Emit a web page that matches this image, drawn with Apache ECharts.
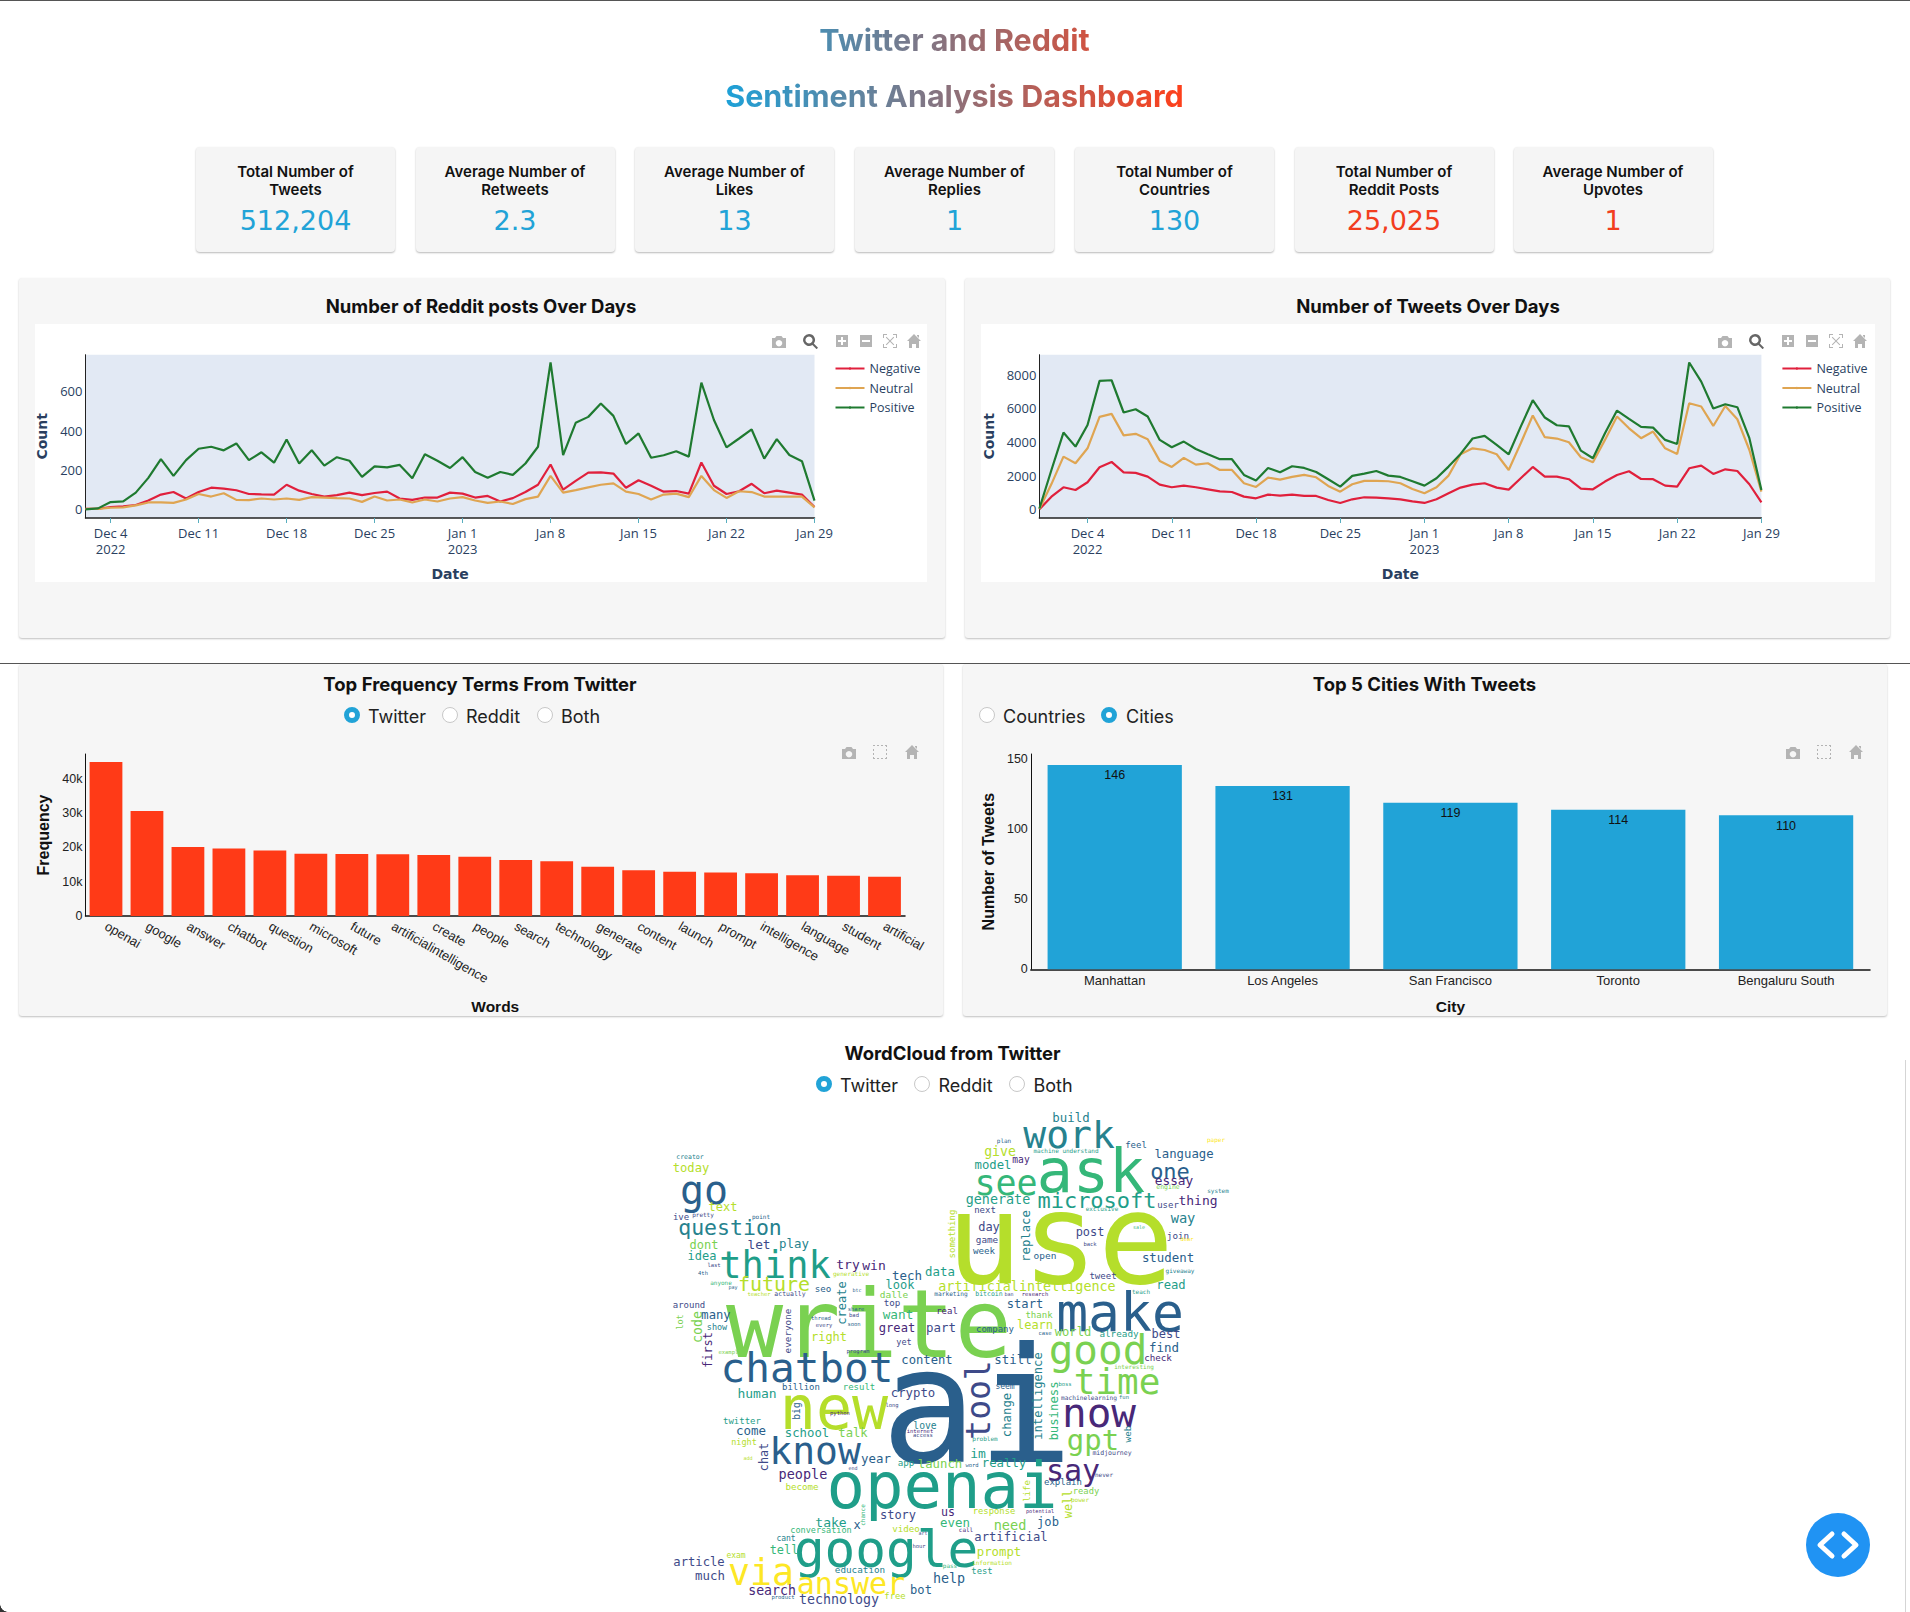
<!DOCTYPE html>
<html>
<head>
<meta charset="utf-8">
<title>Twitter and Reddit Sentiment Analysis Dashboard</title>
<script src="https://cdn.jsdelivr.net/npm/echarts@6/dist/echarts.min.js"></script>
<style>
  html, body { margin: 0; padding: 0; background: #fff; }
  #page { position: relative; width: 1910px; height: 1612px; overflow: hidden; font-family: Inter, sans-serif; color: #111; }
  #page > * { position: absolute; box-sizing: border-box; }
  .rule { left: 0; width: 1910px; height: 1px; background: #555; }
  .headline { left: 725px; top: 12px; width: 459px; text-align: center; font-weight: 700; font-size: 30.5px; line-height: 56px; white-space: nowrap;
    background: linear-gradient(90deg, #1da1d8, #ff3f1a); -webkit-background-clip: text; background-clip: text; color: transparent; }
  .kpi { top: 147px; width: 199px; height: 105px; background: #f5f5f5; border-radius: 4px; box-shadow: 0 1px 2px rgba(0,0,0,.28); text-align: center; }
  .kpi .lab { margin-top: 16px; font-size: 15px; font-weight: 600; line-height: 18px; }
  .kpi .val { margin-top: 4px; font-family: "DejaVu Sans", sans-serif; font-size: 27px; line-height: 36px; }
  .card { background: #f6f6f6; border-radius: 3px; box-shadow: 0 1px 2px rgba(0,0,0,.25); }
  .box { background: #fff; }
  .title { font-weight: 700; font-size: 18.5px; line-height: 24px; text-align: center; white-space: nowrap; transform: translateX(-50%); }
  .radio { width: 16px; height: 16px; border-radius: 50%; background: #fff; border: 1px solid #c8c8c8; }
  .radio.on { background: #fff; border: 5px solid #21a3d7; }
  .radiolab { font-size: 18px; line-height: 24px; color: #222; white-space: nowrap; }
  .ico { width: 16px; height: 16px; transform: translate(-50%, -50%); fill: #b4b4b4; }
</style>
</head>
<body>
<div id="page"></div>
<script>
// --- data ---
var kpiLabels = ['Total Number of<br>Tweets', 'Average Number of<br>Retweets', 'Average Number of<br>Likes', 'Average Number of<br>Replies',
  'Total Number of<br>Countries', 'Total Number of<br>Reddit Posts', 'Average Number of<br>Upvotes'];
var kpiValues = ['512,204', '2.3', '13', '1', '130', '25,025', '1'];

var redditDays = ['Dec 2','Dec 3','Dec 4','Dec 5','Dec 6','Dec 7','Dec 8','Dec 9','Dec 10','Dec 11','Dec 12','Dec 13','Dec 14','Dec 15','Dec 16','Dec 17',
  'Dec 18','Dec 19','Dec 20','Dec 21','Dec 22','Dec 23','Dec 24','Dec 25','Dec 26','Dec 27','Dec 28','Dec 29','Dec 30','Dec 31',
  'Jan 1','Jan 2','Jan 3','Jan 4','Jan 5','Jan 6','Jan 7','Jan 8','Jan 9','Jan 10','Jan 11','Jan 12','Jan 13','Jan 14','Jan 15','Jan 16','Jan 17',
  'Jan 18','Jan 19','Jan 20','Jan 21','Jan 22','Jan 23','Jan 24','Jan 25','Jan 26','Jan 27','Jan 28','Jan 29'];
var tweetDays = ['Nov 30','Dec 1'].concat(redditDays);
var weekTicks = ['Dec 4','Dec 11','Dec 18','Dec 25','Jan 1','Jan 8','Jan 15','Jan 22','Jan 29'];

var redditNegative = [3,3,12,15,22,45,75,88,55,88,110,105,97,78,76,75,125,95,78,65,72,85,72,83,90,55,48,60,60,85,80,60,68,40,57,88,125,228,100,145,187,188,182,110,148,120,90,93,80,238,120,78,92,130,82,95,85,75,12];
var redditNeutral = [2,2,8,10,20,35,35,33,50,78,65,82,48,47,55,50,55,48,62,60,57,55,38,65,45,50,35,50,40,55,62,45,33,40,27,52,65,170,85,98,112,125,132,90,78,50,75,80,62,170,98,58,92,88,65,65,65,65,10];
var redditPositive = [0,5,37,40,85,160,255,170,250,308,318,300,335,250,290,237,355,233,300,222,265,247,165,218,213,226,158,280,247,210,265,190,160,190,175,233,318,747,276,440,470,538,475,332,386,262,275,295,268,644,454,315,360,406,258,357,276,245,44];

var tweetNegative = [0,750,1310,1150,1610,2500,2820,2200,2165,1945,1470,1310,1410,1310,1190,1070,1030,755,655,875,815,875,795,795,555,377,595,715,695,655,595,475,377,595,950,1290,1470,1550,1290,1170,1845,2520,1945,1945,1790,1230,1190,1650,2045,2265,1805,1790,1410,1350,2440,2600,2105,2380,2280,1490,415];
var tweetNeutral = [20,1500,3135,2740,3630,5500,5680,4400,4490,4170,2880,2520,3060,2660,2740,2340,2340,1550,1330,1885,1770,1925,2045,1905,1390,1050,1490,1690,1690,1670,1550,1210,950,1310,2005,3275,3630,3530,3275,2340,3930,5580,4290,4210,3990,3100,2800,4130,5520,4820,4230,4625,3630,3295,6310,6115,4960,6150,5360,3530,1050];
var tweetPositive = [50,2340,4565,3730,5020,7640,7680,5760,5955,5520,4130,3690,4030,3590,3275,2980,2980,2045,1710,2460,2200,2560,2460,2220,1790,1350,1985,2125,2280,2005,1925,1670,1410,1845,2540,3295,4210,4370,3830,3275,4920,6490,5460,5000,4940,3490,3040,4525,5875,5380,4900,4860,4130,3890,8735,7600,5995,6250,6075,4230,1150];

var termWords = ['openai','google','answer','chatbot','question','microsoft','future','artificialintelligence','create','people','search','technology','generate','content','launch','prompt','intelligence','language','student','artificial'];
var termFreq = [44850,30580,20100,19700,19100,18150,18050,17960,17770,17280,16310,15920,14370,13300,12900,12700,12430,11840,11750,11460];
var termTicks = [0,10000,20000,30000,40000];

var cityNames = ['Manhattan','Los Angeles','San Francisco','Toronto','Bengaluru South'];
var cityTweets = [146,131,119,114,110];
var cityTicks = [0,50,100,150];

// word cloud: picture-space placement on a hidden 620x512 value axis pair,
// [x, y, font size, shade (index into viridis), vertical]
var viridis = ['#440154','#482878','#3e4a89','#2a5f8c','#26828e','#1f9e89','#35b779','#7ad151','#b5de2b','#fde725'];
var cloudWords = ['use','write','ai','openai','google','make','good','think','chatbot','new','know','now','time','say','gpt','tool','ask','see','work','go',
  'question','microsoft','generate','one','essay','language','thing','build','feel','give','model','may','user','way','next','day','post','game','week','open','join','student','replace','something','tweet','read','artificialintelligence','tech','data','win','try','future','let','play','dont','idea','today','text','look','dalle','create','seo','top','want','great','part','real','start','thank','learn','company','right','yet','world','already','best','find','check','still','content','crypto','human','billion','result','seem','change','intelligence','business','web','first','everyone','code','many','around','show','lot','big','twitter','come','school','talk','love','chat','year','im','app','launch','really','people','become','explain','ready','life','well','us','story','response','potential','take','x','even','need','job','conversation','video','artificial','prompt','cant','tell','article','exam','via','answer','much','education','help','test','search','technology','bot','free','product','hour','call','art','chance','end','word','never','power','pass','information','midjourney','problem','machinelearning','fun','boss','interesting','internet','access','long','python','night','add','program','example','case','soon','share','bad','thread','every','teacher','actually','pay','anyone','btc','generative','last','4th','ive','pretty','point','creator','plan','paper','machine understand','engine','system','exclusive','back','sale','dear','giveaway','teach','research','ban','bitcoin','marketing'];
var cloudPlace = [[420,141,126,8,0],[229,226,95,7,0],[337,308,160,3,0],[302,388,64,5,0],[246,451,51,5,0],[480,214,53,3,0],[458,252,41,7,0],[135,167,37,5,0],[167,270,41,3,0],[194,310,60,8,0],[175,353,38,3,0],[459,315,41,1,0],[477,283,36,7,0],[433,372,30,1,0],[453,342,29,7,0],[338,302,33,2,1],[451,73,60,6,0],[366,85,35,6,0],[429,37,38,4,0],[64,92,40,3,0],
  [90,129,21.5,4,0],[457,102,22,5,0],[358,101,13.4,5,0],[530,73,22,3,0],[534,82,12.8,1,0],[544,56,12.3,3,0],[558,102,13,1,0],[431,19,12.4,4,0],[496,47,9,3,0],[360,53,13.2,8,0],[353,67,12.3,5,0],[381,61,9.6,1,0],[528,107,9,2,0],[543,120,13.7,4,0],[345,112,9,2,0],[349,129,12,2,0],[450,134,11.9,2,0],[347,141,9.3,2,0],[344,152,9.2,3,0],[405,157,9.5,3,0],[538,137,9.3,2,0],[528,159,12.4,3,0],[386,138,12.3,4,1],[312,136,9,8,1],[463,178,9,2,0],[531,187,12.2,5,0],[387,188,13.4,8,0],[267,177,12.5,3,0],[300,173,12.4,5,0],[234,167,13,1,0],[208,166,13,1,0],[134,186,20,8,0],[119,146,12.8,2,0],[154,145,12.4,4,0],[64,147,12,7,0],[62,158,12,5,0],[51,70,12.1,8,0],[83,109,12,8,0],[260,187,12,5,0],[254,196,9.5,7,0],[202,205,12,4,1],[183,190,9.2,3,0],[252,204,9.2,2,0],[258,216,12.7,6,0],[257,230,12.1,1,0],[301,229,12.4,2,0],[307,213,9,1,0],[385,206,12.1,3,0],[399,217,9,7,0],[395,227,12,8,0],[355,231,9,3,0],[189,239,12,8,0],[264,244,8.5,2,0],[433,234,12.1,7,0],[479,235,9.3,5,0],[526,236,12,2,0],[524,249,12.5,3,0],[518,259,9.2,1,0],[373,261,12.4,3,0],[287,262,12.2,3,0],[273,295,12.3,2,0],[117,295,13,5,0],[161,289,9,3,0],[219,289,9,6,0],[365,288,8,3,0],[367,317,12.3,4,1],[398,298,12.1,4,1],[414,313,12.3,6,1],[487,336,9.3,4,1],[68,252,12,1,1],[147,233,9.3,2,1],[57,229,13.3,7,1],[76,217,12.2,3,0],[49,207,9,2,0],[77,229,8.5,4,0],[40,224,8.7,7,1],[156,313,9.6,3,1],[102,323,9,5,0],[111,332,12.5,3,0],[167,335,12.3,5,0],[213,335,12.2,7,0],[285,327,9.7,4,0],[124,359,11.8,2,1],[236,360,12.4,3,0],[338,355,13,5,0],[266,364,9.2,5,0],[300,366,12.3,7,0],[364,365,12.3,5,0],[163,376,13.5,1,0],[162,388,9.2,8,0],[423,384,9,3,0],[446,393,8.8,7,0],[387,393,9,8,1],[428,406,11.8,8,1],[308,414,11.6,1,0],[258,417,12,2,0],[354,413,8.9,8,0],[400,413,5.2,1,0],[191,424,13,5,0],[217,427,12,3,0],[315,424,12.4,6,0],[370,427,13.6,7,0],[408,424,12.1,3,0],[181,432,8.5,6,0],[266,430,9.2,8,0],[371,439,12.2,2,0],[359,454,12.3,8,0],[146,440,8,4,0],[144,452,11.9,6,0],[59,464,12.2,2,0],[96,457,8,8,0],[121,474,36.6,9,0],[211,485,30,9,0],[70,477,12.4,2,0],[220,471,9.3,4,0],[309,480,13.4,3,0],[342,473,8.9,5,0],[132,492,13.2,1,0],[199,501,13.3,2,0],[281,492,12.1,3,0],[255,498,8.9,8,0],[143,499,5.5,3,0],[279,448,5.5,2,0],[326,431,6,1,0],[283,435,5,2,0],[222,417,6,6,1],[213,370,5,2,0],[332,367,5.5,3,0],[464,376,6,2,0],[440,401,6,8,0],[310,467,6,6,0],[352,464,6,8,0],[472,355,6.5,2,0],[345,340,6,5,0],[449,299,6.2,2,0],[484,299,5.5,4,0],[425,286,5.5,5,0],[494,268,6,7,0],[280,333,5.5,1,0],[283,337,5.5,2,0],[252,307,5.5,2,0],[200,315,5.5,1,0],[104,344,8.5,8,0],[108,360,5,8,0],[218,253,5.5,2,0],[90,254,5.5,7,0],[405,235,5.5,3,0],[214,226,5.5,3,0],[216,211,5.5,3,0],[214,217,5.5,2,0],[181,220,5.5,3,0],[184,227,5.5,2,0],[119,196,5.5,8,0],[150,196,6.5,2,0],[93,189,5,3,0],[81,184,6,6,0],[217,192,5,3,0],[211,175,6,8,0],[74,167,5.5,2,0],[63,175,5.5,3,0],[41,119,9,2,0],[63,116,6,2,0],[121,118,6,3,0],[50,59,6.5,4,0],[364,42,6,3,0],[576,41,6,9,0],[426,52,6,5,0],[528,89,6.5,7,0],[578,92,6,4,0],[462,110,6,5,0],[450,146,5.5,2,0],[499,129,5,6,0],[547,141,5.5,9,0],[540,172,6,4,0],[501,193,6,5,0],[395,196,5.5,1,0],[369,196,5,2,0],[349,196,6.5,5,0],[311,195,6.2,3,0]];

// --- static page pieces ---
var page = document.getElementById('page');
var KPI_LEFT = [196, 415.5, 635, 855, 1075, 1294.5, 1513.5];

function add(cls, css, html) {
  var d = document.createElement('div');
  d.className = cls;
  d.style.cssText = css;
  if (html) d.innerHTML = html;
  page.appendChild(d);
  return d;
}
function card(x, y, w, h) { add('card', 'left:' + x + 'px;top:' + y + 'px;width:' + w + 'px;height:' + h + 'px'); }
function title(text, cx, cy) { add('title', 'left:' + cx + 'px;top:' + (cy - 12) + 'px', text); }
function radio(on, cx, cy, text, lx) {
  add('radio' + (on ? ' on' : ''), 'left:' + (cx - 8) + 'px;top:' + (cy - 8) + 'px');
  add('radiolab', 'left:' + lx + 'px;top:' + (cy - 10) + 'px', text);
}

var ICONS = {
  camera: 'M2 5h3l1.5-2h5L13 5h3v10H2zM9 7a3.2 3.2 0 1 0 .01 0z',
  zoom: 'M7 1a6 6 0 0 1 4.8 9.6l4.2 4.2-1.4 1.4-4.2-4.2A6 6 0 1 1 7 1zm0 2.5a3.5 3.5 0 1 0 .01 0z',
  plus: 'M2 2h12v12H2zM7 4v3H4v2h3v3h2V9h3V7H9V4z',
  minus: 'M2 2h12v12H2zM4 7v2h8V7z',
  auto: 'M1 1h4v1H2v3H1zM11 1h4v4h-1V2h-3zM1 11h1v3h3v1H1zM14 11h1v4h-4v-1h3zM4.5 3.8l3.5 3.5 3.5-3.5.7.7-3.5 3.5 3.5 3.5-.7.7L8 8.7l-3.5 3.5-.7-.7L7.3 8 3.8 4.5z',
  select: 'M1 1h2v1H1zM5 1h2v1H5zM9 1h2v1H9zM13 1h2v2h-1V2h-1zM14 5h1v2h-1zM14 9h1v2h-1zM14 13h1v2h-2v-1h1zM9 14h2v1H9zM5 14h2v1H5zM1 13h1v1h1v1H1zM1 9h1v2H1zM1 5h1v2H1z',
  home: 'M8 1l7 7h-2v7H10v-4H6v4H3V8H1zM11 2h2v3l-2-2z'
};
function icon(name, x, y) {
  add('ico', 'left:' + x + 'px;top:' + y + 'px', '<svg viewBox="0 0 16 16" width="16" height="16"><path fill-rule="evenodd" d="' + ICONS[name] + '"/></svg>');
}

add('rule', 'top:0');
add('headline', '', 'Twitter and Reddit<br>Sentiment Analysis Dashboard');
kpiLabels.forEach(function(lab, i) {
  var col = i < 5 ? '#21a3d7' : '#f23d1e';
  add('kpi', 'left:' + KPI_LEFT[i] + 'px', '<div class="lab">' + lab + '</div><div class="val" style="color:' + col + '">' + kpiValues[i] + '</div>');
});

card(18.5, 277.5, 926, 360);
card(965, 277.5, 925, 360);
add('box', 'left:35px;top:324px;width:892px;height:258px');
add('box', 'left:981px;top:324px;width:894px;height:258px');
title('Number of Reddit posts Over Days', 481, 306);
title('Number of Tweets Over Days', 1428, 306);

add('rule', 'top:663px');
card(18.5, 664, 924.5, 352);
card(962.5, 664, 924.5, 352);
title('Top Frequency Terms From Twitter', 480, 684);
title('Top 5 Cities With Tweets', 1424.5, 684);
radio(true, 352, 715, 'Twitter', 368);
radio(false, 450, 715, 'Reddit', 466);
radio(false, 545, 715, 'Both', 561);
radio(false, 987, 715, 'Countries', 1003);
radio(true, 1108.5, 715, 'Cities', 1126);

title('WordCloud from Twitter', 952.5, 1053);
radio(true, 824, 1084, 'Twitter', 840);
radio(false, 921.5, 1084, 'Reddit', 938.5);
radio(false, 1016.5, 1084, 'Both', 1033.5);

function makeChart(x, y, w, h) {
  var d = add('chart', 'left:' + x + 'px;top:' + y + 'px;width:' + w + 'px;height:' + h + 'px');
  return echarts.init(d, null, { renderer: 'svg' });
}

// --- sentiment line charts ---
var INK = '#2a3f5f';
var SENT_COLORS = ['#e0203c', '#dfa552', '#1f7a30'];
var SENT_NAMES = ['Negative', 'Neutral', 'Positive'];

function dayLabel(v) {
  if (v === 'Dec 4') return 'Dec 4\n2022';
  if (v === 'Jan 1') return 'Jan 1\n2023';
  return v;
}
function sentimentOption(days, series, yMin, yMax, yTicks, plotLeft, plotWidth) {
  var isTick = function(i, v) { return weekTicks.indexOf(v) >= 0; };
  return {
    animation: false,
    textStyle: { fontFamily: '"Open Sans", sans-serif' },
    grid: { left: plotLeft, top: 30.7, width: plotWidth, height: 163.3, backgroundColor: '#e2e9f4', show: true, borderWidth: 0, outerBoundsMode: 'none' },
    legend: {
      data: SENT_NAMES, orient: 'vertical', left: plotLeft + plotWidth + 20, top: 38, itemWidth: 29, itemHeight: 3, itemGap: 6.5,
      textStyle: { color: INK, fontSize: 12.5, lineHeight: 12 }, padding: 0
    },
    xAxis: {
      type: 'category', data: days, boundaryGap: false,
      name: 'Date', nameLocation: 'middle', nameGap: 49,
      nameTextStyle: { color: INK, fontSize: 14, fontWeight: 'bold', fontFamily: '"DejaVu Sans", sans-serif' },
      axisLine: { onZero: false, lineStyle: { color: '#222', width: 1.5 } },
      axisTick: { interval: isTick, length: 5, lineStyle: { color: '#58aebf' } },
      axisLabel: { interval: isTick, formatter: dayLabel, color: INK, fontSize: 13, lineHeight: 16, margin: 7, hideOverlap: false, showMinLabel: true, showMaxLabel: true },
      splitLine: { show: false }
    },
    yAxis: {
      type: 'value', min: yMin, max: yMax,
      name: 'Count', nameLocation: 'middle', nameGap: 33,
      nameTextStyle: { color: INK, fontSize: 14, fontWeight: 'bold', fontFamily: '"DejaVu Sans", sans-serif' },
      axisLine: { show: true, onZero: false, lineStyle: { color: '#222', width: 1 } },
      axisTick: { show: false },
      axisLabel: { color: INK, fontSize: 13, margin: 3, customValues: yTicks, formatter: function(v) { return String(v); } },
      splitLine: { show: false }
    },
    series: series.map(function(vals, i) {
      return { name: SENT_NAMES[i], type: 'line', data: vals, symbol: 'none', lineStyle: { color: SENT_COLORS[i], width: 2.2 }, itemStyle: { color: SENT_COLORS[i] } };
    })
  };
}
makeChart(35, 324, 892, 258).setOption(sentimentOption(redditDays, [redditNegative, redditNeutral, redditPositive], -44, 786, [0, 200, 400, 600], 50.5, 729));
makeChart(981, 324, 894, 258).setOption(sentimentOption(tweetDays, [tweetNegative, tweetNeutral, tweetPositive], -518, 9200, [0, 2000, 4000, 6000, 8000], 58.4, 722));

// --- bar charts ---
var BAR_FONT = '"Liberation Sans", Arial, sans-serif';
function barOption(o) {
  return {
    animation: false,
    textStyle: { fontFamily: BAR_FONT },
    grid: { left: o.left, top: 14, width: o.width, height: o.height, outerBoundsMode: 'none' },
    xAxis: {
      type: 'category', data: o.cats,
      name: o.xName, nameLocation: 'middle', nameGap: o.xGap,
      nameTextStyle: { color: '#111', fontSize: 15.5, fontWeight: 'bold' },
      axisLine: { lineStyle: { color: '#111', width: 1.5 } },
      axisTick: { show: false },
      axisLabel: { interval: 0, rotate: o.rotate, color: '#222', fontSize: 13, margin: o.margin, hideOverlap: false }
    },
    yAxis: {
      type: 'value', min: 0, max: o.max,
      name: o.yName, nameLocation: 'middle', nameGap: o.yGap,
      nameTextStyle: { color: '#111', fontSize: 16, fontWeight: 'bold' },
      axisLine: { show: true, lineStyle: { color: '#111', width: 1 } },
      axisTick: { show: false },
      axisLabel: { color: '#222', fontSize: 12.5, margin: 3, customValues: o.ticks, formatter: o.fmt },
      splitLine: { show: false }
    },
    series: [{
      type: 'bar', data: o.vals, barWidth: '80%', itemStyle: { color: o.color },
      label: o.labels ? { show: true, position: 'insideTop', distance: 4, color: '#111', fontSize: 12.5 } : { show: false }
    }]
  };
}
makeChart(18, 740, 925, 276).setOption(barOption({
  left: 67.5, width: 819.5, height: 162, cats: termWords, vals: termFreq, color: '#ff3a17', max: 47200, ticks: termTicks, margin: 9,
  fmt: function(v) { return v === 0 ? '0' : (v / 1000) + 'k'; }, xName: 'Words', xGap: 82, yName: 'Frequency', yGap: 31, rotate: -30
}));
makeChart(962, 740, 925, 276).setOption(barOption({
  left: 68.8, width: 839.2, height: 215.3, cats: cityNames, vals: cityTweets, color: '#21a3d7', max: 153.8, ticks: cityTicks, margin: 5,
  xName: 'City', xGap: 29, yName: 'Number of Tweets', yGap: 34, rotate: 0, labels: true
}));

// --- word cloud ---
var cloudData = cloudWords.map(function(w, i) {
  var p = cloudPlace[i];
  return {
    name: w, value: [p[0], p[1]],
    label: { fontSize: p[2], color: viridis[p[3]], rotate: p[4] ? 90 : 0 }
  };
});
makeChart(640, 1100, 620, 512).setOption({
  animation: false,
  grid: { left: 0, right: 0, top: 0, bottom: 0, outerBoundsMode: 'none' },
  xAxis: { type: 'value', min: 0, max: 620, show: false },
  yAxis: { type: 'value', min: 2, max: 514, inverse: true, show: false },
  series: [{
    type: 'scatter', data: cloudData, symbolSize: 1, itemStyle: { color: 'transparent', opacity: 1 }, silent: true,
    label: { show: true, opacity: 1, position: 'inside', align: 'center', verticalAlign: 'middle', formatter: '{b}', fontFamily: '"DejaVu Sans Mono", monospace' }
  }]
});

// modebars
[['camera',777.5,341],['zoom',810,341],['plus',842,341],['minus',866,341],['auto',890,341],['home',914,341],
 ['camera',1723.5,341],['zoom',1756,341],['plus',1788,341],['minus',1811.5,341],['auto',1835.5,341],['home',1860,341],
 ['camera',848,752],['select',880,752],['home',912,752],
 ['camera',1792,752],['select',1824,752],['home',1856,752]].forEach(function(m) {
  icon(m[0], m[1], m[2]);
});
// the zoom tool is the active one on the line charts
page.querySelectorAll('.ico').forEach(function(el, i) { if (i === 1 || i === 7) el.style.fill = '#666'; });

// floating code button
add('', 'left:1806px;top:1513px;width:64px;height:64px;border-radius:50%;background:#2093f3',
  '<svg viewBox="0 0 64 64" width="64" height="64"><path d="M26 21L14 32l12 11M38 21l12 11-12 11" fill="none" stroke="#fff" stroke-width="5" stroke-linecap="round" stroke-linejoin="round"/></svg>');
add('', 'left:1905px;top:1060px;width:1px;height:552px;background:#d5d5d5');
add('', 'left:0;top:1604px;width:8px;height:8px;background:radial-gradient(circle at 100% 0, transparent 7.5px, #333 8px)');
</script>
</body>
</html>
